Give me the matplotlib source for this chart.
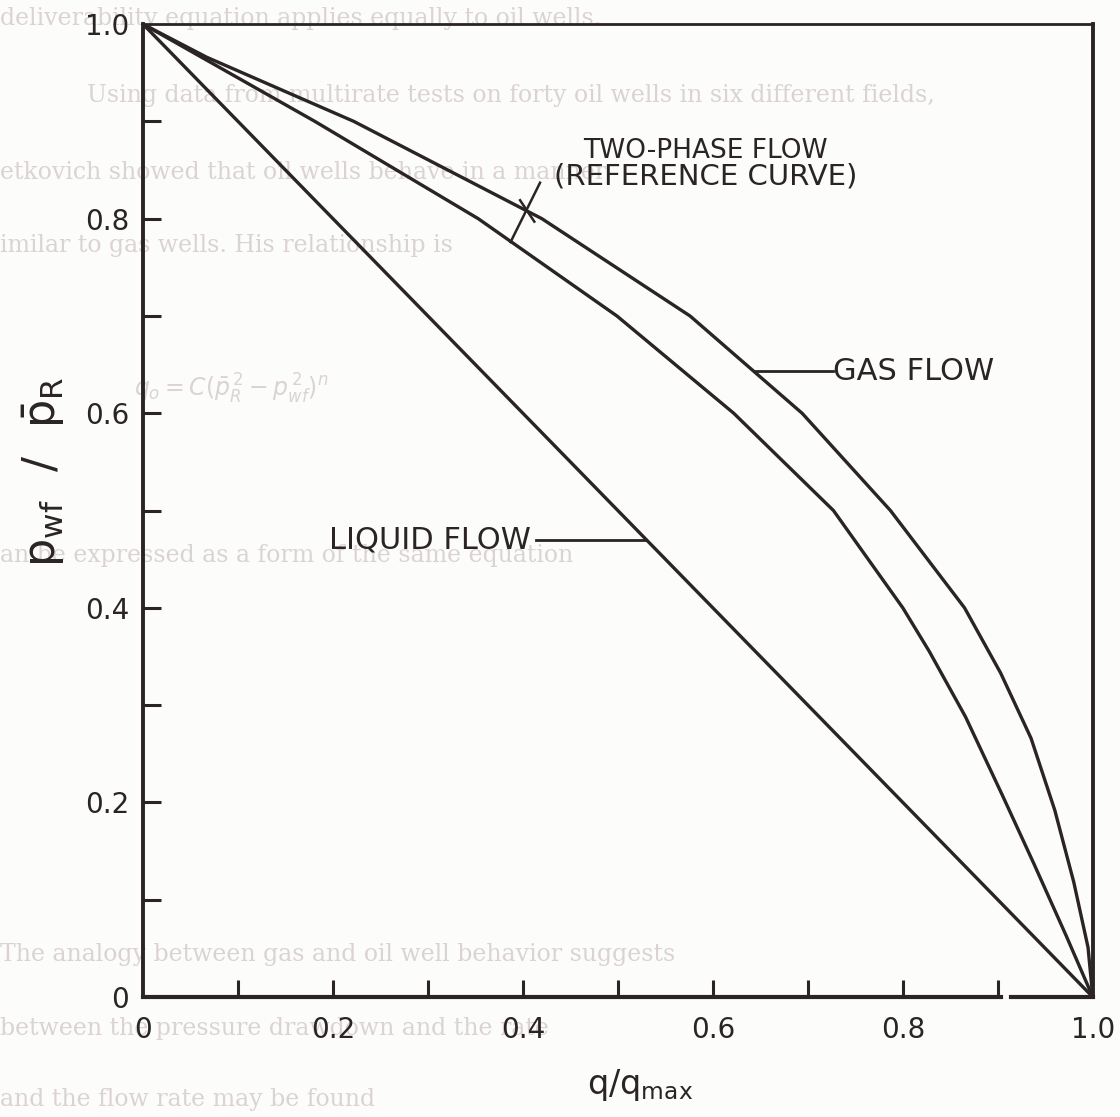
import matplotlib
matplotlib.use("Agg")
import matplotlib.pyplot as plt

# dimensionless IPR curves, pressure ratio vs rate ratio
liquid_p = [1.0, 0.0]
liquid_q = [0.0, 1.0]

two_phase_p = [1.0, 0.9, 0.8, 0.7, 0.6, 0.5, 0.4, 0.355, 0.288, 0.207, 0.137, 0.063, 0.0]
two_phase_q = [0.0, 0.181, 0.353, 0.499, 0.622, 0.727, 0.800, 0.828, 0.866, 0.905, 0.938, 0.972, 1.0]

gas_p = [1.0, 0.966, 0.9, 0.8, 0.7, 0.6, 0.5, 0.4, 0.333, 0.266, 0.192, 0.118, 0.051, 0.0]
gas_q = [0.0, 0.067, 0.222, 0.420, 0.576, 0.694, 0.787, 0.865, 0.903, 0.935, 0.96, 0.98, 0.995, 1.0]

major_ticks = [0, 0.2, 0.4, 0.6, 0.8, 1.0]
minor_ticks = [0.1, 0.3, 0.5, 0.7, 0.9]
x_ticklabels = ["0", "0.2", "0.4", "0.6", "0.8", "1.0"]
y_ticklabels = ["0", "0.2", "0.4", "0.6", "0.8", "1.0"]

ink = "#2a2424"
ghost = "#dbd3d3"

plt.rcParams["mathtext.fontset"] = "dejavusans"
fig = plt.figure(figsize=(11.2, 11.17), dpi=100)
fig.patch.set_facecolor("#fcfcfb")

# faint print showing through from the back of the page
page_lines = [
    (0.0, 0.978, "deliverability equation applies equally to oil wells."),
    (0.078, 0.909, "Using data from multirate tests on forty oil wells in six different fields,"),
    (0.0, 0.840, "etkovich showed that oil wells behave in a manner"),
    (0.0, 0.774, "imilar to gas wells. His relationship is"),
    (0.0, 0.497, "an be expressed as a form of the same equation"),
    (0.0, 0.140, "The analogy between gas and oil well behavior suggests"),
    (0.0, 0.073, "between the pressure drawdown and the rate"),
    (0.0, 0.010, "and the flow rate may be found"),
]
for x, y, s in page_lines:
    fig.text(x, y, s, fontsize=17, family="DejaVu Serif", color=ghost, zorder=-1)
fig.text(0.12, 0.645, r"$q_o = C(\bar{p}_R^{\,2} - p_{wf}^{\,2})^n$", fontsize=17,
         color=ghost, zorder=-1)

ax = fig.add_axes([0.1277, 0.1074, 0.848, 0.871])
ax.patch.set_alpha(0)

ax.plot(liquid_q, liquid_p, color=ink, lw=2.4, solid_capstyle="round")
ax.plot(two_phase_q, two_phase_p, color=ink, lw=2.4, solid_joinstyle="round")
ax.plot(gas_q, gas_p, color=ink, lw=2.4, solid_joinstyle="round")

ax.set_xlim(0, 1.0)
ax.set_ylim(0, 1.0)

# frame: bottom axis has a small break near the right end
ax.spines["bottom"].set_visible(False)
ax.plot([0, 0.903], [0, 0], color=ink, lw=3, transform=ax.transAxes, clip_on=False)
ax.plot([0.914, 1.0], [0, 0], color=ink, lw=3, transform=ax.transAxes, clip_on=False)
for side in ["left", "right"]:
    ax.spines[side].set_linewidth(2.8)
    ax.spines[side].set_color(ink)
ax.spines["top"].set_linewidth(2.0)
ax.spines["top"].set_color(ink)

ax.set_xticks(major_ticks)
ax.set_xticklabels(x_ticklabels)
ax.set_yticks(major_ticks)
ax.set_yticklabels(y_ticklabels)
ax.set_xticks(minor_ticks, minor=True)
ax.set_yticks(minor_ticks, minor=True)
ax.tick_params(axis="both", which="both", direction="in", color=ink, width=2.2)
ax.tick_params(axis="x", which="both", length=12, pad=14, labelsize=20, labelcolor=ink)
ax.tick_params(axis="y", which="both", length=13, pad=10, labelsize=20, labelcolor=ink)
# the end ticks sit on the frame corners
for t in ax.xaxis.get_major_ticks()[::5] + ax.yaxis.get_major_ticks()[::5]:
    t.tick1line.set_visible(False)

ax.set_xlabel(r"$\mathrm{q/q_{max}}$", fontsize=24, color=ink)
ax.xaxis.set_label_coords(0.523, -0.072)
ax.set_ylabel(r"$\mathrm{p_{wf}\ \ /\ \ \bar{p}_R}$", fontsize=32, color=ink)
ax.yaxis.set_label_coords(-0.08, 0.54)

# curve labels with leaders
ax.text(0.592, 0.870, "TWO-PHASE FLOW", ha="center", va="center", fontsize=19, color=ink)
ax.text(0.592, 0.843, "(REFERENCE CURVE)", ha="center", va="center", fontsize=21, color=ink)
ax.plot([0.418, 0.387], [0.837, 0.776], color=ink, lw=1.8)
ax.plot([0.397, 0.412], [0.819, 0.797], color=ink, lw=1.8)

ax.text(0.727, 0.643, "GAS FLOW", ha="left", va="center", fontsize=22, color=ink)
ax.plot([0.645, 0.726], [0.643, 0.643], color=ink, lw=2.0)

ax.text(0.408, 0.470, "LIQUID FLOW", ha="right", va="center", fontsize=22, color=ink)
ax.plot([0.414, 0.530], [0.470, 0.470], color=ink, lw=2.0)

fig.savefig("out.png", dpi=100, facecolor=fig.get_facecolor())
